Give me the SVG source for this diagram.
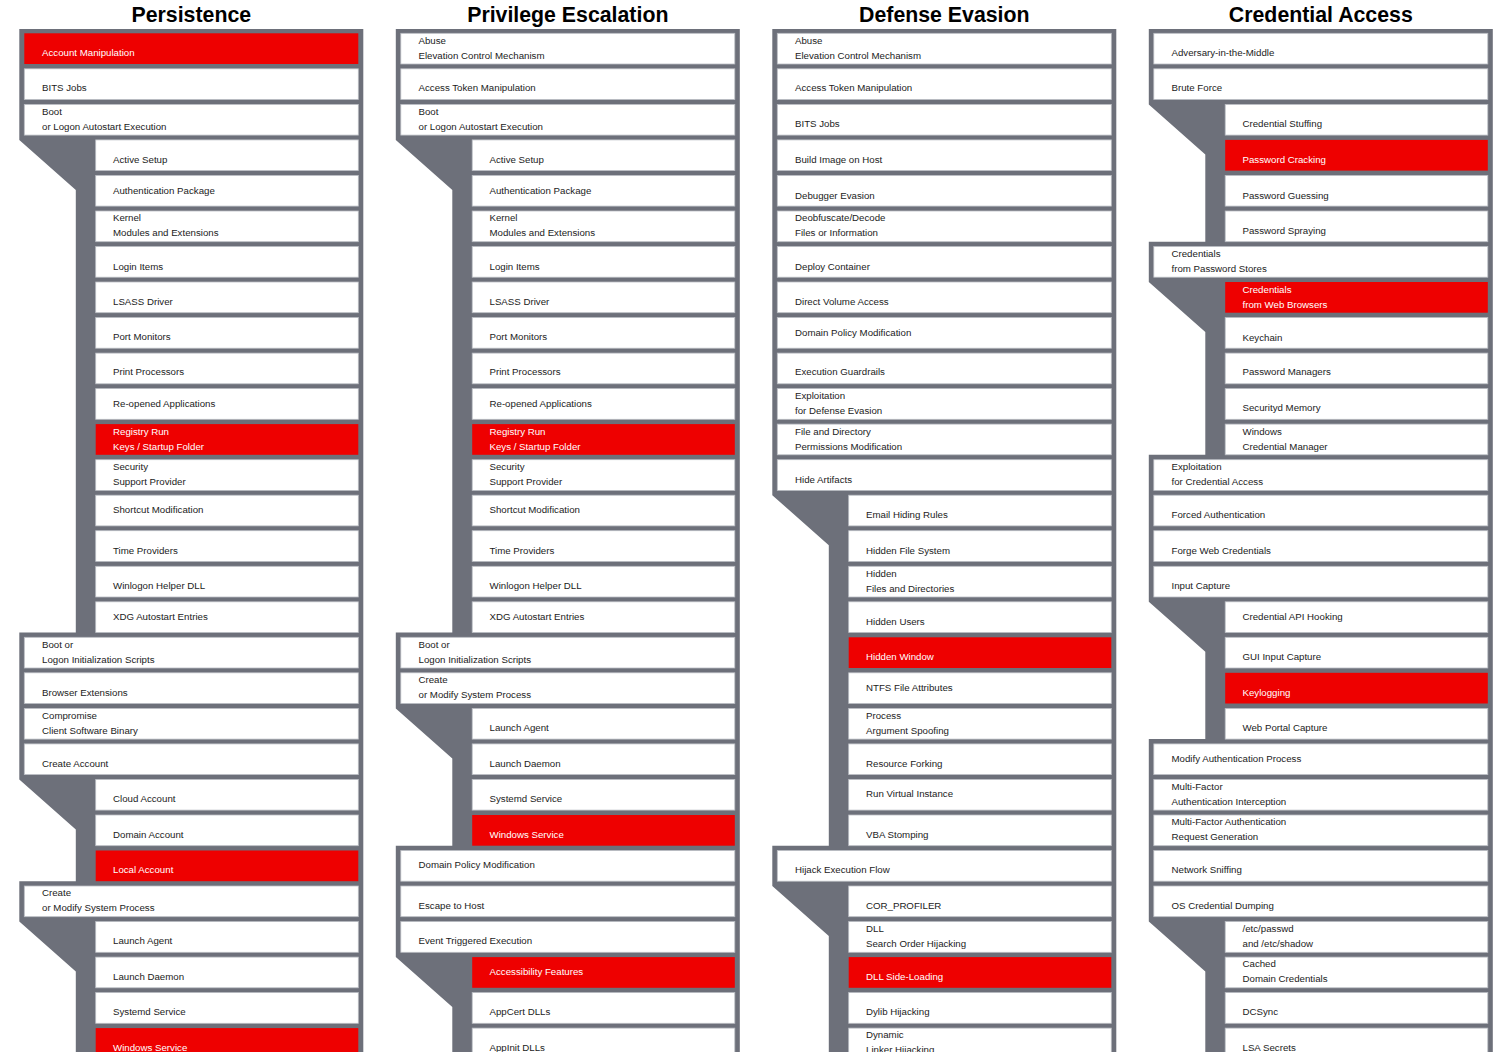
<svg xmlns="http://www.w3.org/2000/svg" width="1510" height="1052" viewBox="0 0 1510 1052">
<style>
.bg{fill:#ffffff}
.fr{fill:#6d707a}
.b{fill:#ffffff;stroke:#b9bcc2;stroke-width:0.8}
.r{fill:#ee0000}
.t{font-family:"Liberation Sans",Arial,sans-serif;font-size:9.7px;fill:#1b1b1b}
.tw{font-family:"Liberation Sans",Arial,sans-serif;font-size:9.7px;fill:#ffffff}
.h{font-family:"Liberation Sans",Arial,sans-serif;font-size:21.3px;font-weight:bold;fill:#000000;text-anchor:middle}
</style>
<rect class="bg" x="0" y="0" width="1510" height="1052"/>
<g id="titles">
<text class="h" x="191.3" y="22">Persistence</text>
<text class="h" x="567.8" y="22">Privilege Escalation</text>
<text class="h" x="944.3" y="22">Defense Evasion</text>
<text class="h" x="1320.8" y="22">Credential Access</text>
</g>
<g id="connectors">
<path class="fr" d="M19.3,29 H363.3 V1060 H75.8 V971.6 L19.3,921.6 V881.2 H75.8 V829.4 L19.3,779.4 V632.5 H75.8 V189.9 L19.3,139.9 Z"/>
<path class="fr" d="M395.8,29 H739.8 V1060 H452.3 V1007.1 L395.8,957.1 V845.7 H452.3 V758.4 L395.8,708.4 V632.5 H452.3 V189.9 L395.8,139.9 Z"/>
<path class="fr" d="M772.3,29 H1116.3 V1060 H828.8 V936 L772.3,886 V845.7 H828.8 V545.2 L772.3,495.2 Z"/>
<path class="fr" d="M1148.8,29 H1492.8 V1060 H1205.3 V971.6 L1148.8,921.6 V739.1 H1205.3 V651.8 L1148.8,601.8 V454.8 H1205.3 V332 L1148.8,282 V241.7 H1205.3 V154.4 L1148.8,104.4 Z"/>
</g>
<g id="persistence">
<g id="p0"><rect class="r" x="24.3" y="33.3" width="334" height="30.7"/><text class="tw" x="42" y="55.7">Account Manipulation</text></g>
<g id="p1"><rect class="b" x="24.3" y="68.8" width="334" height="30.7"/><text class="t" x="42" y="90.7">BITS Jobs</text></g>
<g id="p2"><rect class="b" x="24.3" y="104.4" width="334" height="30.7"/><text class="t" x="42" y="114.7">Boot<tspan x="42" y="129.7">or Logon Autostart Execution</tspan></text></g>
<g id="p3"><rect class="b" x="95.7" y="139.9" width="262.6" height="30.7"/><text class="t" x="113" y="162.7">Active Setup</text></g>
<g id="p4"><rect class="b" x="95.7" y="175.4" width="262.6" height="30.7"/><text class="t" x="113" y="193.7">Authentication Package</text></g>
<g id="p5"><rect class="b" x="95.7" y="211" width="262.6" height="30.7"/><text class="t" x="113" y="220.7">Kernel<tspan x="113" y="235.7">Modules and Extensions</tspan></text></g>
<g id="p6"><rect class="b" x="95.7" y="246.5" width="262.6" height="30.7"/><text class="t" x="113" y="269.7">Login Items</text></g>
<g id="p7"><rect class="b" x="95.7" y="282" width="262.6" height="30.7"/><text class="t" x="113" y="304.7">LSASS Driver</text></g>
<g id="p8"><rect class="b" x="95.7" y="317.5" width="262.6" height="30.7"/><text class="t" x="113" y="339.7">Port Monitors</text></g>
<g id="p9"><rect class="b" x="95.7" y="353.1" width="262.6" height="30.7"/><text class="t" x="113" y="374.7">Print Processors</text></g>
<g id="p10"><rect class="b" x="95.7" y="388.6" width="262.6" height="30.7"/><text class="t" x="113" y="406.7">Re-opened Applications</text></g>
<g id="p11"><rect class="r" x="95.7" y="424.1" width="262.6" height="30.7"/><text class="tw" x="113" y="434.7">Registry Run<tspan x="113" y="449.7">Keys / Startup Folder</tspan></text></g>
<g id="p12"><rect class="b" x="95.7" y="459.7" width="262.6" height="30.7"/><text class="t" x="113" y="469.7">Security<tspan x="113" y="484.7">Support Provider</tspan></text></g>
<g id="p13"><rect class="b" x="95.7" y="495.2" width="262.6" height="30.7"/><text class="t" x="113" y="512.7">Shortcut Modification</text></g>
<g id="p14"><rect class="b" x="95.7" y="530.7" width="262.6" height="30.7"/><text class="t" x="113" y="553.7">Time Providers</text></g>
<g id="p15"><rect class="b" x="95.7" y="566.3" width="262.6" height="30.7"/><text class="t" x="113" y="588.7">Winlogon Helper DLL</text></g>
<g id="p16"><rect class="b" x="95.7" y="601.8" width="262.6" height="30.7"/><text class="t" x="113" y="619.7">XDG Autostart Entries</text></g>
<g id="p17"><rect class="b" x="24.3" y="637.3" width="334" height="30.7"/><text class="t" x="42" y="647.7">Boot or<tspan x="42" y="662.7">Logon Initialization Scripts</tspan></text></g>
<g id="p18"><rect class="b" x="24.3" y="672.8" width="334" height="30.7"/><text class="t" x="42" y="695.7">Browser Extensions</text></g>
<g id="p19"><rect class="b" x="24.3" y="708.4" width="334" height="30.7"/><text class="t" x="42" y="718.7">Compromise<tspan x="42" y="733.7">Client Software Binary</tspan></text></g>
<g id="p20"><rect class="b" x="24.3" y="743.9" width="334" height="30.7"/><text class="t" x="42" y="766.7">Create Account</text></g>
<g id="p21"><rect class="b" x="95.7" y="779.4" width="262.6" height="30.7"/><text class="t" x="113" y="801.7">Cloud Account</text></g>
<g id="p22"><rect class="b" x="95.7" y="815" width="262.6" height="30.7"/><text class="t" x="113" y="837.7">Domain Account</text></g>
<g id="p23"><rect class="r" x="95.7" y="850.5" width="262.6" height="30.7"/><text class="tw" x="113" y="872.7">Local Account</text></g>
<g id="p24"><rect class="b" x="24.3" y="886" width="334" height="30.7"/><text class="t" x="42" y="895.7">Create<tspan x="42" y="910.7">or Modify System Process</tspan></text></g>
<g id="p25"><rect class="b" x="95.7" y="921.6" width="262.6" height="30.7"/><text class="t" x="113" y="943.7">Launch Agent</text></g>
<g id="p26"><rect class="b" x="95.7" y="957.1" width="262.6" height="30.7"/><text class="t" x="113" y="979.7">Launch Daemon</text></g>
<g id="p27"><rect class="b" x="95.7" y="992.6" width="262.6" height="30.7"/><text class="t" x="113" y="1014.7">Systemd Service</text></g>
<g id="p28"><rect class="r" x="95.7" y="1028.1" width="262.6" height="30.7"/><text class="tw" x="113" y="1050.7">Windows Service</text></g>
</g>
<g id="privilege-escalation">
<g id="e0"><rect class="b" x="400.8" y="33.3" width="334" height="30.7"/><text class="t" x="418.5" y="43.7">Abuse<tspan x="418.5" y="58.7">Elevation Control Mechanism</tspan></text></g>
<g id="e1"><rect class="b" x="400.8" y="68.8" width="334" height="30.7"/><text class="t" x="418.5" y="90.7">Access Token Manipulation</text></g>
<g id="e2"><rect class="b" x="400.8" y="104.4" width="334" height="30.7"/><text class="t" x="418.5" y="114.7">Boot<tspan x="418.5" y="129.7">or Logon Autostart Execution</tspan></text></g>
<g id="e3"><rect class="b" x="472.2" y="139.9" width="262.6" height="30.7"/><text class="t" x="489.5" y="162.7">Active Setup</text></g>
<g id="e4"><rect class="b" x="472.2" y="175.4" width="262.6" height="30.7"/><text class="t" x="489.5" y="193.7">Authentication Package</text></g>
<g id="e5"><rect class="b" x="472.2" y="211" width="262.6" height="30.7"/><text class="t" x="489.5" y="220.7">Kernel<tspan x="489.5" y="235.7">Modules and Extensions</tspan></text></g>
<g id="e6"><rect class="b" x="472.2" y="246.5" width="262.6" height="30.7"/><text class="t" x="489.5" y="269.7">Login Items</text></g>
<g id="e7"><rect class="b" x="472.2" y="282" width="262.6" height="30.7"/><text class="t" x="489.5" y="304.7">LSASS Driver</text></g>
<g id="e8"><rect class="b" x="472.2" y="317.5" width="262.6" height="30.7"/><text class="t" x="489.5" y="339.7">Port Monitors</text></g>
<g id="e9"><rect class="b" x="472.2" y="353.1" width="262.6" height="30.7"/><text class="t" x="489.5" y="374.7">Print Processors</text></g>
<g id="e10"><rect class="b" x="472.2" y="388.6" width="262.6" height="30.7"/><text class="t" x="489.5" y="406.7">Re-opened Applications</text></g>
<g id="e11"><rect class="r" x="472.2" y="424.1" width="262.6" height="30.7"/><text class="tw" x="489.5" y="434.7">Registry Run<tspan x="489.5" y="449.7">Keys / Startup Folder</tspan></text></g>
<g id="e12"><rect class="b" x="472.2" y="459.7" width="262.6" height="30.7"/><text class="t" x="489.5" y="469.7">Security<tspan x="489.5" y="484.7">Support Provider</tspan></text></g>
<g id="e13"><rect class="b" x="472.2" y="495.2" width="262.6" height="30.7"/><text class="t" x="489.5" y="512.7">Shortcut Modification</text></g>
<g id="e14"><rect class="b" x="472.2" y="530.7" width="262.6" height="30.7"/><text class="t" x="489.5" y="553.7">Time Providers</text></g>
<g id="e15"><rect class="b" x="472.2" y="566.3" width="262.6" height="30.7"/><text class="t" x="489.5" y="588.7">Winlogon Helper DLL</text></g>
<g id="e16"><rect class="b" x="472.2" y="601.8" width="262.6" height="30.7"/><text class="t" x="489.5" y="619.7">XDG Autostart Entries</text></g>
<g id="e17"><rect class="b" x="400.8" y="637.3" width="334" height="30.7"/><text class="t" x="418.5" y="647.7">Boot or<tspan x="418.5" y="662.7">Logon Initialization Scripts</tspan></text></g>
<g id="e18"><rect class="b" x="400.8" y="672.8" width="334" height="30.7"/><text class="t" x="418.5" y="682.7">Create<tspan x="418.5" y="697.7">or Modify System Process</tspan></text></g>
<g id="e19"><rect class="b" x="472.2" y="708.4" width="262.6" height="30.7"/><text class="t" x="489.5" y="730.7">Launch Agent</text></g>
<g id="e20"><rect class="b" x="472.2" y="743.9" width="262.6" height="30.7"/><text class="t" x="489.5" y="766.7">Launch Daemon</text></g>
<g id="e21"><rect class="b" x="472.2" y="779.4" width="262.6" height="30.7"/><text class="t" x="489.5" y="801.7">Systemd Service</text></g>
<g id="e22"><rect class="r" x="472.2" y="815" width="262.6" height="30.7"/><text class="tw" x="489.5" y="837.7">Windows Service</text></g>
<g id="e23"><rect class="b" x="400.8" y="850.5" width="334" height="30.7"/><text class="t" x="418.5" y="867.7">Domain Policy Modification</text></g>
<g id="e24"><rect class="b" x="400.8" y="886" width="334" height="30.7"/><text class="t" x="418.5" y="908.7">Escape to Host</text></g>
<g id="e25"><rect class="b" x="400.8" y="921.6" width="334" height="30.7"/><text class="t" x="418.5" y="943.7">Event Triggered Execution</text></g>
<g id="e26"><rect class="r" x="472.2" y="957.1" width="262.6" height="30.7"/><text class="tw" x="489.5" y="974.7">Accessibility Features</text></g>
<g id="e27"><rect class="b" x="472.2" y="992.6" width="262.6" height="30.7"/><text class="t" x="489.5" y="1014.7">AppCert DLLs</text></g>
<g id="e28"><rect class="b" x="472.2" y="1028.1" width="262.6" height="30.7"/><text class="t" x="489.5" y="1050.7">AppInit DLLs</text></g>
</g>
<g id="defense-evasion">
<g id="d0"><rect class="b" x="777.3" y="33.3" width="334" height="30.7"/><text class="t" x="795" y="43.7">Abuse<tspan x="795" y="58.7">Elevation Control Mechanism</tspan></text></g>
<g id="d1"><rect class="b" x="777.3" y="68.8" width="334" height="30.7"/><text class="t" x="795" y="90.7">Access Token Manipulation</text></g>
<g id="d2"><rect class="b" x="777.3" y="104.4" width="334" height="30.7"/><text class="t" x="795" y="126.7">BITS Jobs</text></g>
<g id="d3"><rect class="b" x="777.3" y="139.9" width="334" height="30.7"/><text class="t" x="795" y="162.7">Build Image on Host</text></g>
<g id="d4"><rect class="b" x="777.3" y="175.4" width="334" height="30.7"/><text class="t" x="795" y="198.7">Debugger Evasion</text></g>
<g id="d5"><rect class="b" x="777.3" y="211" width="334" height="30.7"/><text class="t" x="795" y="220.7">Deobfuscate/Decode<tspan x="795" y="235.7">Files or Information</tspan></text></g>
<g id="d6"><rect class="b" x="777.3" y="246.5" width="334" height="30.7"/><text class="t" x="795" y="269.7">Deploy Container</text></g>
<g id="d7"><rect class="b" x="777.3" y="282" width="334" height="30.7"/><text class="t" x="795" y="304.7">Direct Volume Access</text></g>
<g id="d8"><rect class="b" x="777.3" y="317.5" width="334" height="30.7"/><text class="t" x="795" y="335.7">Domain Policy Modification</text></g>
<g id="d9"><rect class="b" x="777.3" y="353.1" width="334" height="30.7"/><text class="t" x="795" y="374.7">Execution Guardrails</text></g>
<g id="d10"><rect class="b" x="777.3" y="388.6" width="334" height="30.7"/><text class="t" x="795" y="398.7">Exploitation<tspan x="795" y="413.7">for Defense Evasion</tspan></text></g>
<g id="d11"><rect class="b" x="777.3" y="424.1" width="334" height="30.7"/><text class="t" x="795" y="434.7">File and Directory<tspan x="795" y="449.7">Permissions Modification</tspan></text></g>
<g id="d12"><rect class="b" x="777.3" y="459.7" width="334" height="30.7"/><text class="t" x="795" y="482.7">Hide Artifacts</text></g>
<g id="d13"><rect class="b" x="848.7" y="495.2" width="262.6" height="30.7"/><text class="t" x="866" y="517.7">Email Hiding Rules</text></g>
<g id="d14"><rect class="b" x="848.7" y="530.7" width="262.6" height="30.7"/><text class="t" x="866" y="553.7">Hidden File System</text></g>
<g id="d15"><rect class="b" x="848.7" y="566.3" width="262.6" height="30.7"/><text class="t" x="866" y="576.7">Hidden<tspan x="866" y="591.7">Files and Directories</tspan></text></g>
<g id="d16"><rect class="b" x="848.7" y="601.8" width="262.6" height="30.7"/><text class="t" x="866" y="624.7">Hidden Users</text></g>
<g id="d17"><rect class="r" x="848.7" y="637.3" width="262.6" height="30.7"/><text class="tw" x="866" y="659.7">Hidden Window</text></g>
<g id="d18"><rect class="b" x="848.7" y="672.8" width="262.6" height="30.7"/><text class="t" x="866" y="690.7">NTFS File Attributes</text></g>
<g id="d19"><rect class="b" x="848.7" y="708.4" width="262.6" height="30.7"/><text class="t" x="866" y="718.7">Process<tspan x="866" y="733.7">Argument Spoofing</tspan></text></g>
<g id="d20"><rect class="b" x="848.7" y="743.9" width="262.6" height="30.7"/><text class="t" x="866" y="766.7">Resource Forking</text></g>
<g id="d21"><rect class="b" x="848.7" y="779.4" width="262.6" height="30.7"/><text class="t" x="866" y="796.7">Run Virtual Instance</text></g>
<g id="d22"><rect class="b" x="848.7" y="815" width="262.6" height="30.7"/><text class="t" x="866" y="837.7">VBA Stomping</text></g>
<g id="d23"><rect class="b" x="777.3" y="850.5" width="334" height="30.7"/><text class="t" x="795" y="872.7">Hijack Execution Flow</text></g>
<g id="d24"><rect class="b" x="848.7" y="886" width="262.6" height="30.7"/><text class="t" x="866" y="908.7">COR_PROFILER</text></g>
<g id="d25"><rect class="b" x="848.7" y="921.6" width="262.6" height="30.7"/><text class="t" x="866" y="931.7">DLL<tspan x="866" y="946.7">Search Order Hijacking</tspan></text></g>
<g id="d26"><rect class="r" x="848.7" y="957.1" width="262.6" height="30.7"/><text class="tw" x="866" y="979.7">DLL Side-Loading</text></g>
<g id="d27"><rect class="b" x="848.7" y="992.6" width="262.6" height="30.7"/><text class="t" x="866" y="1014.7">Dylib Hijacking</text></g>
<g id="d28"><rect class="b" x="848.7" y="1028.1" width="262.6" height="30.7"/><text class="t" x="866" y="1037.7">Dynamic<tspan x="866" y="1052.7">Linker Hijacking</tspan></text></g>
</g>
<g id="credential-access">
<g id="c0"><rect class="b" x="1153.8" y="33.3" width="334" height="30.7"/><text class="t" x="1171.5" y="55.7">Adversary-in-the-Middle</text></g>
<g id="c1"><rect class="b" x="1153.8" y="68.8" width="334" height="30.7"/><text class="t" x="1171.5" y="90.7">Brute Force</text></g>
<g id="c2"><rect class="b" x="1225.2" y="104.4" width="262.6" height="30.7"/><text class="t" x="1242.5" y="126.7">Credential Stuffing</text></g>
<g id="c3"><rect class="r" x="1225.2" y="139.9" width="262.6" height="30.7"/><text class="tw" x="1242.5" y="162.7">Password Cracking</text></g>
<g id="c4"><rect class="b" x="1225.2" y="175.4" width="262.6" height="30.7"/><text class="t" x="1242.5" y="198.7">Password Guessing</text></g>
<g id="c5"><rect class="b" x="1225.2" y="211" width="262.6" height="30.7"/><text class="t" x="1242.5" y="233.7">Password Spraying</text></g>
<g id="c6"><rect class="b" x="1153.8" y="246.5" width="334" height="30.7"/><text class="t" x="1171.5" y="256.7">Credentials<tspan x="1171.5" y="271.7">from Password Stores</tspan></text></g>
<g id="c7"><rect class="r" x="1225.2" y="282" width="262.6" height="30.7"/><text class="tw" x="1242.5" y="292.7">Credentials<tspan x="1242.5" y="307.7">from Web Browsers</tspan></text></g>
<g id="c8"><rect class="b" x="1225.2" y="317.5" width="262.6" height="30.7"/><text class="t" x="1242.5" y="340.7">Keychain</text></g>
<g id="c9"><rect class="b" x="1225.2" y="353.1" width="262.6" height="30.7"/><text class="t" x="1242.5" y="374.7">Password Managers</text></g>
<g id="c10"><rect class="b" x="1225.2" y="388.6" width="262.6" height="30.7"/><text class="t" x="1242.5" y="410.7">Securityd Memory</text></g>
<g id="c11"><rect class="b" x="1225.2" y="424.1" width="262.6" height="30.7"/><text class="t" x="1242.5" y="434.7">Windows<tspan x="1242.5" y="449.7">Credential Manager</tspan></text></g>
<g id="c12"><rect class="b" x="1153.8" y="459.7" width="334" height="30.7"/><text class="t" x="1171.5" y="469.7">Exploitation<tspan x="1171.5" y="484.7">for Credential Access</tspan></text></g>
<g id="c13"><rect class="b" x="1153.8" y="495.2" width="334" height="30.7"/><text class="t" x="1171.5" y="517.7">Forced Authentication</text></g>
<g id="c14"><rect class="b" x="1153.8" y="530.7" width="334" height="30.7"/><text class="t" x="1171.5" y="553.7">Forge Web Credentials</text></g>
<g id="c15"><rect class="b" x="1153.8" y="566.3" width="334" height="30.7"/><text class="t" x="1171.5" y="588.7">Input Capture</text></g>
<g id="c16"><rect class="b" x="1225.2" y="601.8" width="262.6" height="30.7"/><text class="t" x="1242.5" y="619.7">Credential API Hooking</text></g>
<g id="c17"><rect class="b" x="1225.2" y="637.3" width="262.6" height="30.7"/><text class="t" x="1242.5" y="659.7">GUI Input Capture</text></g>
<g id="c18"><rect class="r" x="1225.2" y="672.8" width="262.6" height="30.7"/><text class="tw" x="1242.5" y="695.7">Keylogging</text></g>
<g id="c19"><rect class="b" x="1225.2" y="708.4" width="262.6" height="30.7"/><text class="t" x="1242.5" y="730.7">Web Portal Capture</text></g>
<g id="c20"><rect class="b" x="1153.8" y="743.9" width="334" height="30.7"/><text class="t" x="1171.5" y="761.7">Modify Authentication Process</text></g>
<g id="c21"><rect class="b" x="1153.8" y="779.4" width="334" height="30.7"/><text class="t" x="1171.5" y="789.7">Multi-Factor<tspan x="1171.5" y="804.7">Authentication Interception</tspan></text></g>
<g id="c22"><rect class="b" x="1153.8" y="815" width="334" height="30.7"/><text class="t" x="1171.5" y="824.7">Multi-Factor Authentication<tspan x="1171.5" y="839.7">Request Generation</tspan></text></g>
<g id="c23"><rect class="b" x="1153.8" y="850.5" width="334" height="30.7"/><text class="t" x="1171.5" y="872.7">Network Sniffing</text></g>
<g id="c24"><rect class="b" x="1153.8" y="886" width="334" height="30.7"/><text class="t" x="1171.5" y="908.7">OS Credential Dumping</text></g>
<g id="c25"><rect class="b" x="1225.2" y="921.6" width="262.6" height="30.7"/><text class="t" x="1242.5" y="931.7">/etc/passwd<tspan x="1242.5" y="946.7">and /etc/shadow</tspan></text></g>
<g id="c26"><rect class="b" x="1225.2" y="957.1" width="262.6" height="30.7"/><text class="t" x="1242.5" y="966.7">Cached<tspan x="1242.5" y="981.7">Domain Credentials</tspan></text></g>
<g id="c27"><rect class="b" x="1225.2" y="992.6" width="262.6" height="30.7"/><text class="t" x="1242.5" y="1014.7">DCSync</text></g>
<g id="c28"><rect class="b" x="1225.2" y="1028.1" width="262.6" height="30.7"/><text class="t" x="1242.5" y="1050.7">LSA Secrets</text></g>
</g>
</svg>
